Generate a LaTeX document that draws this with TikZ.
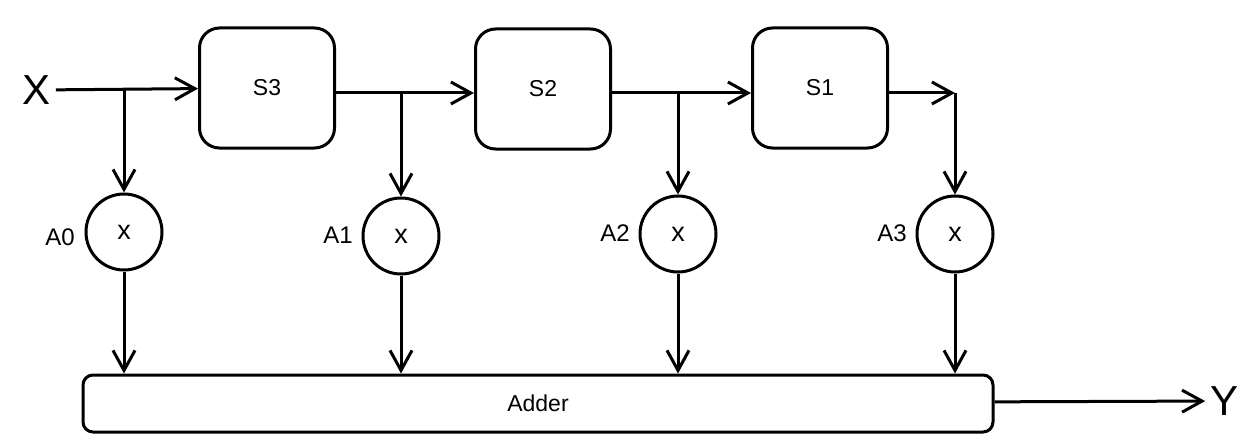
\documentclass[tikz,border=0pt]{standalone}
\usepackage{fontspec}
\setmainfont{Liberation Sans}
\usetikzlibrary{arrows.meta,positioning}

\tikzset{
  stage/.style={draw, line width=3pt, rounded corners=20pt, minimum width=135pt, minimum height=120pt, font=\fontsize{23}{25}\selectfont},
  mult/.style={draw, circle, line width=3pt, minimum size=76pt, inner sep=0pt, font=\fontsize{27}{29}\selectfont},
  sumbox/.style={draw, line width=3pt, rounded corners=10pt, minimum width=910pt, minimum height=57pt, font=\fontsize{23}{25}\selectfont},
  coef/.style={font=\fontsize{24}{26}\selectfont},
  big/.style={font=\fontsize{42}{44}\selectfont},
}

\begin{document}
\begin{tikzpicture}[x=1pt, y=-1pt, line width=3pt, >={Straight Barb[length=20pt, width=22pt, line width=3pt]}]
  \useasboundingbox (0, 0) rectangle (1255, 441);
  \node[big] (inX) at (37, 90) {X};
  \node[stage] (s3) at (267, 88) {S3};
  \node[stage] (s2) at (543, 89) {S2};
  \node[stage] (s1) at (820, 88) {S1};
  \coordinate (b0) at (124, 90);
  \coordinate (b1) at (401, 93);
  \coordinate (b2) at (678, 93);
  \coordinate (b3) at (955, 93);
  \node[mult] (m0) at (124, 232) {x};
  \node[mult] (m1) at (401, 236) {x};
  \node[mult] (m2) at (678, 234) {x};
  \node[mult] (m3) at (955, 234) {x};
  \node[coef] (a0) at (60, 237) {A0};
  \node[coef] (a1) at (338, 235) {A1};
  \node[coef] (a2) at (615, 233) {A2};
  \node[coef] (a3) at (892, 233) {A3};
  \node[sumbox] (adder) at (538, 403.5) {Adder};
  \node[big] (outY) at (1224, 401) {Y};
  % delay line
  \draw[->] (inX) -- (s3);
  \draw[->] (s3.east |- b1) -- (s2.west |- b1);
  \draw[->] (s2.east |- b2) -- (s1.west |- b2);
  \draw[->] (s1.east |- b3) -- (b3);
  % taps
  \draw[->] (b0) -- (m0);
  \draw[->] (b1) -- (m1);
  \draw[->] (b2) -- (m2);
  \draw[->] (b3) -- (m3);
  \draw[->] (m0) -- (m0 |- adder.north);
  \draw[->] (m1) -- (m1 |- adder.north);
  \draw[->] (m2) -- (m2 |- adder.north);
  \draw[->] (m3) -- (m3 |- adder.north);
  \draw[->] (adder) -- (outY);
\end{tikzpicture}
\end{document}
